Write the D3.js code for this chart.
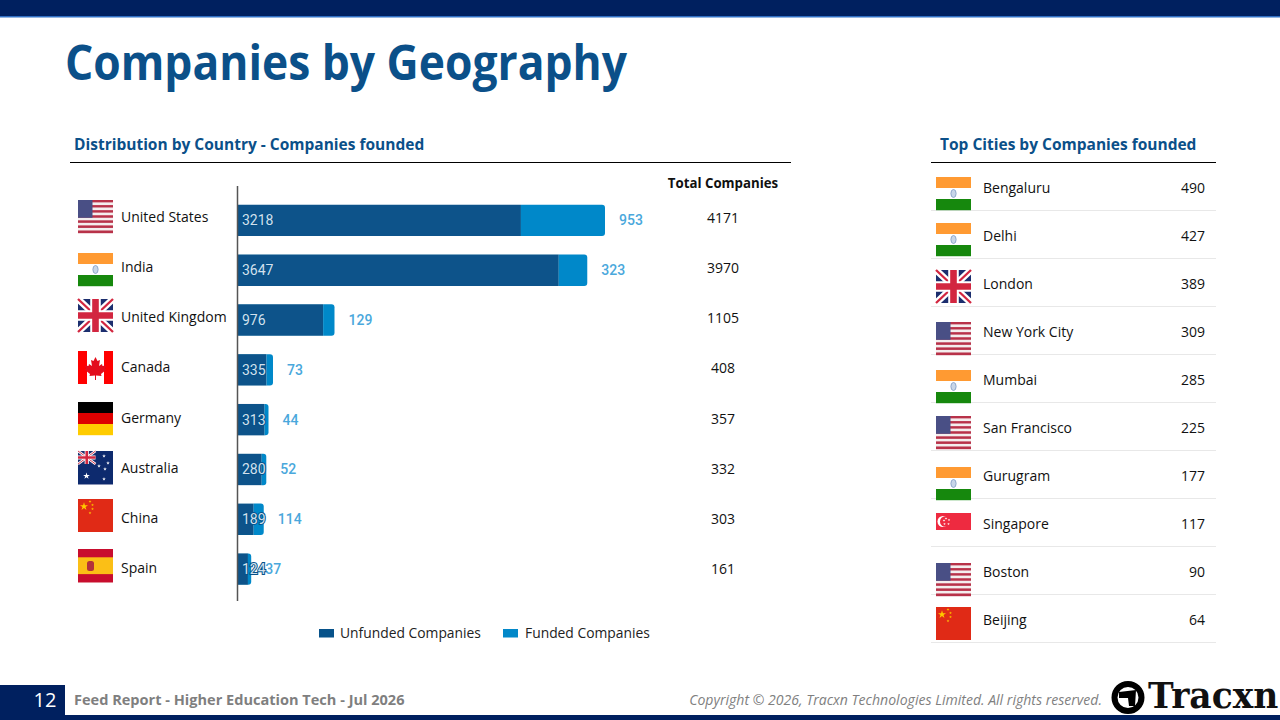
<!DOCTYPE html>
<html>
<head>
<meta charset="utf-8">
<title>Companies by Geography</title>
<script src="https://cdn.jsdelivr.net/npm/d3@7"></script>
<style>
html, body { margin: 0; padding: 0; background: #fff; overflow: hidden; }
text { font-family: "Open Sans", sans-serif; }
</style>
</head>
<body>
<script>
// Country chart data
var countries = ["United States", "India", "United Kingdom", "Canada", "Germany", "Australia", "China", "Spain"];
var countryFlags = ["us", "in", "uk", "ca", "de", "au", "cn", "es"];
var unfunded = [3218, 3647, 976, 335, 313, 280, 189, 124];
var funded = [953, 323, 129, 73, 44, 52, 114, 37];
var totals = [4171, 3970, 1105, 408, 357, 332, 303, 161];
var seriesNames = ["Unfunded Companies", "Funded Companies"];

// City table data
var cities = ["Bengaluru", "Delhi", "London", "New York City", "Mumbai", "San Francisco", "Gurugram", "Singapore", "Boston", "Beijing"];
var cityFlags = ["in", "in", "uk", "us", "in", "us", "in", "sg", "us", "cn"];
var cityCounts = [490, 427, 389, 309, 285, 225, 177, 117, 90, 64];

// Flags are pasted images in the slide and do not sit exactly on the rows
var countryFlagTop = [200, 253, 299, 351, 402, 451, 499, 549];
var cityFlagTop = [177, 223, 270, 322, 370, 416, 467, 513, 563, 607];

var navy = "#00205f", dark = "#07528a", light = "#0288c9", heading = "#0b5089";

var svg = d3.select("body").append("svg")
    .attr("width", 1280)
    .attr("height", 720)
    .style("display", "block");

var defs = svg.append("defs");
defs.append("filter").attr("id", "soft")
    .append("feGaussianBlur").attr("stdDeviation", 0.4);

// ---------------- page frame ----------------
svg.append("rect").attr("width", 1280).attr("height", 16).attr("fill", navy);
svg.append("rect").attr("y", 16).attr("width", 1280).attr("height", 1.5).attr("fill", "#2f6fc4");

svg.append("text").attr("x", 65).attr("y", 80)
    .attr("font-size", 48).attr("font-weight", 700).attr("fill", heading)
    .attr("textLength", 562).attr("lengthAdjust", "spacingAndGlyphs")
    .text("Companies by Geography");

svg.append("rect").attr("y", 685).attr("width", 65).attr("height", 35).attr("fill", navy);
svg.append("rect").attr("y", 715).attr("width", 1280).attr("height", 5).attr("fill", navy);
svg.append("text").attr("x", 45).attr("y", 707).attr("text-anchor", "middle")
    .attr("font-size", 20).attr("fill", "#fff").text("12");
svg.append("text").attr("x", 74).attr("y", 705)
    .attr("font-size", 14.55).attr("font-weight", 700).attr("fill", "#7f7f7f")
    .text("Feed Report - Higher Education Tech - Jul 2026");
svg.append("text").attr("x", 1102).attr("y", 705).attr("text-anchor", "end")
    .attr("font-size", 14.07).attr("font-style", "italic").attr("fill", "#7f7f7f")
    .text("Copyright © 2026, Tracxn Technologies Limited. All rights reserved.");

// logo
var logo = svg.append("g");
logo.append("circle").attr("cx", 1128).attr("cy", 697.5).attr("r", 13.5)
    .attr("fill", "none").attr("stroke", "#000").attr("stroke-width", 6);
logo.append("path").attr("d", "M1119,692 L1136,690 L1135,706 L1129,706 L1128,698 L1119,698 Z").attr("fill", "#000");
logo.append("text").attr("x", 1148).attr("y", 708)
    .attr("font-size", 34.5).attr("font-weight", 700)
    .style("font-family", "'DejaVu Serif', serif").attr("fill", "#111")
    .text("Tracxn");

// ---------------- section headings ----------------
svg.append("text").attr("x", 74).attr("y", 149.5)
    .attr("font-size", 15.5).attr("font-weight", 700).attr("fill", heading)
    .text("Distribution by Country - Companies founded");
svg.append("line").attr("x1", 70).attr("x2", 791).attr("y1", 162.5).attr("y2", 162.5).attr("stroke", "#000");
svg.append("text").attr("x", 940).attr("y", 149.5)
    .attr("font-size", 15.5).attr("font-weight", 700).attr("fill", heading)
    .text("Top Cities by Companies founded");
svg.append("line").attr("x1", 931).attr("x2", 1216).attr("y1", 162.5).attr("y2", 162.5).attr("stroke", "#000");
svg.append("text").attr("x", 723).attr("y", 188).attr("text-anchor", "middle")
    .attr("font-size", 13.25).attr("font-weight", 700).attr("fill", "#111")
    .text("Total Companies");

// ---------------- flags ----------------
function star(g, cx, cy, size, fill) {
    g.append("path")
        .attr("d", d3.symbol().type(d3.symbolStar).size(size)())
        .attr("transform", "translate(" + cx + "," + cy + ")")
        .attr("fill", fill);
}

function bands(g, colors, w, h) {
    colors.forEach(function(c, i) {
        g.append("rect").attr("y", i * h / colors.length)
            .attr("width", w).attr("height", h / colors.length + 0.2).attr("fill", c);
    });
}

function unionJack(g, w, h) {
    g.append("rect").attr("width", w).attr("height", h).attr("fill", "#1c2f6e");
    var diag = "M0,0L" + w + "," + h + "M" + w + ",0L0," + h;
    g.append("path").attr("d", diag).attr("stroke", "#fff").attr("stroke-width", h * 0.2);
    g.append("path").attr("d", diag).attr("stroke", "#d2263f").attr("stroke-width", h * 0.07);
    var cross = "M" + w / 2 + ",0V" + h + "M0," + h / 2 + "H" + w;
    g.append("path").attr("d", cross).attr("stroke", "#fff").attr("stroke-width", h * 0.32);
    g.append("path").attr("d", cross).attr("stroke", "#d2263f").attr("stroke-width", h * 0.2);
}

var drawers = {
    us: function(g) {
        var stripes = d3.range(13).map(function(i) { return i % 2 ? "#f4eeee" : "#b8324a"; });
        bands(g, stripes, 35, 33);
        g.append("rect").attr("width", 14.5).attr("height", 17.8).attr("fill", "#4a4f85");
    },
    in: function(g) {
        bands(g, ["#ff9a33", "#fff", "#16880c"], 35, 33);
        g.append("ellipse").attr("cx", 17.5).attr("cy", 16.5).attr("rx", 2.6).attr("ry", 4)
            .attr("fill", "#c8d6e8").attr("stroke", "#8fa8cc");
    },
    uk: function(g) { unionJack(g, 35, 33); },
    ca: function(g) {
        g.append("rect").attr("width", 35).attr("height", 33).attr("fill", "#fff");
        g.append("rect").attr("width", 9).attr("height", 33).attr("fill", "#f00");
        g.append("rect").attr("x", 26).attr("width", 9).attr("height", 33).attr("fill", "#f00");
        g.append("path").attr("fill", "#e3101a")
            .attr("d", "M17.5,6 L19.5,10 L22,9 L21,15 L24,13 L24.5,15 L28,14.5 L27,18 L28,19 L23,23 L23.5,25 L18,24.5 L18,29 L17,29 L17,24.5 L11.5,25 L12,23 L7,19 L8,18 L7,14.5 L10.5,15 L11,13 L14,15 L13,9 L15.5,10 Z");
    },
    de: function(g) { bands(g, ["#000", "#dd0000", "#ffcc00"], 35, 33); },
    au: function(g) {
        g.append("rect").attr("width", 35).attr("height", 33.5).attr("fill", "#0f2a6e");
        unionJack(g.append("g"), 17.5, 13);
        star(g, 8.5, 25, 14, "#fff");
        [[26, 5], [21, 15], [30, 12], [26, 28], [27, 18]].forEach(function(p) { star(g, p[0], p[1], 4, "#fff"); });
    },
    cn: function(g) {
        g.append("rect").attr("width", 35).attr("height", 33).attr("fill", "#e02b14");
        star(g, 6, 7.5, 20, "#ffc800");
        [[12, 2.5], [14.5, 6], [14.5, 10], [12, 14]].forEach(function(p) { star(g, p[0], p[1], 2.5, "#ffc800"); });
    },
    es: function(g) {
        g.append("rect").attr("width", 35).attr("height", 33.5).attr("fill", "#c8102e");
        g.append("rect").attr("y", 8.3).attr("width", 35).attr("height", 16.8).attr("fill", "#fbbf14");
        g.append("rect").attr("x", 9).attr("y", 12).attr("width", 7).attr("height", 10).attr("rx", 2.5).attr("fill", "#b3303a");
    },
    sg: function(g) {
        g.append("rect").attr("width", 35).attr("height", 17).attr("fill", "#ee2b3f");
        g.append("circle").attr("cx", 7).attr("cy", 8.5).attr("r", 5.5).attr("fill", "#fff");
        g.append("circle").attr("cx", 9.3).attr("cy", 8.5).attr("r", 5.3).attr("fill", "#ee2b3f");
        [[10, 5.5], [13, 7], [12.5, 11], [8.5, 11], [8, 7.5]].forEach(function(p) { star(g, p[0], p[1], 2, "#fff"); });
    }
};

function addFlag(x, y, code) {
    var g = svg.append("g")
        .attr("transform", "translate(" + x + "," + y + ")")
        .attr("filter", "url(#soft)");
    drawers[code](g);
}

// ---------------- country chart ----------------
var x = d3.scaleLinear().domain([0, d3.max(totals)]).range([237, 605]);
var y = d3.scaleBand().domain(countries).range([195.5, 594]).paddingInner(0.37).paddingOuter(0.185);
var rowY = d3.scalePoint().domain(countries).range([222, 573]);
var color = d3.scaleOrdinal().domain(seriesNames).range([dark, light]);

var rows = countries.map(function(c, i) {
    return { country: c, "Unfunded Companies": unfunded[i], "Funded Companies": funded[i], total: totals[i] };
});
var stacked = d3.stack().keys(seriesNames)(rows);

// funded segment gets the rounded right end
function segment(d, key) {
    var x0 = x(d[0]), x1 = x(d[1]), t = y(d.data.country), b = t + y.bandwidth();
    if (key === seriesNames[0]) return "M" + x0 + "," + t + "H" + x1 + "V" + b + "H" + x0 + "Z";
    var r = Math.min(3, x1 - x0);
    return "M" + x0 + "," + t + "H" + (x1 - r) + "Q" + x1 + "," + t + " " + x1 + "," + (t + r) +
        "V" + (b - r) + "Q" + x1 + "," + b + " " + (x1 - r) + "," + b + "H" + x0 + "Z";
}

var barLayer = svg.append("g").attr("filter", "url(#soft)");
barLayer.selectAll("g")
    .data(stacked)
    .enter().append("g")
    .attr("fill", function(s) { return color(s.key); })
    .selectAll("path")
    .data(function(s) { return s.map(function(d) { d.key = s.key; return d; }); })
    .enter().append("path")
    .attr("d", function(d) { return segment(d, d.key); });

// y axis, no ticks
var yAxis = d3.axisLeft(y).tickSize(0).tickFormat("");
var axisG = svg.append("g").attr("transform", "translate(237.5,0)").call(yAxis);
axisG.select(".domain").attr("d", "M0,186V601").attr("stroke", "#555").attr("stroke-width", 1.5);

// funded value labels, drawn first so the unfunded halo sits over them on Spain
svg.append("g").selectAll("text")
    .data(rows)
    .enter().append("text")
    .attr("x", function(d) { return x(d.total) + 14; })
    .attr("y", function(d) { return y(d.country) + y.bandwidth() / 2; })
    .attr("dy", "0.35em")
    .attr("font-size", 14)
    .attr("font-weight", 500)
    .style("font-family", "Roboto, sans-serif")
    .attr("fill", "#4aa8dc")
    .text(function(d) { return d["Funded Companies"]; });

// unfunded value labels, with the dark halo that shows on the small bars
svg.append("g").selectAll("text")
    .data(rows)
    .enter().append("text")
    .attr("x", 242)
    .attr("y", function(d) { return y(d.country) + y.bandwidth() / 2; })
    .attr("dy", "0.35em")
    .attr("font-size", 14)
    .style("font-family", "Roboto, sans-serif")
    .attr("fill", "#d3e0ec")
    .attr("stroke", dark).attr("stroke-width", 2).attr("paint-order", "stroke")
    .text(function(d) { return d["Unfunded Companies"]; });

// country names, flags, totals
svg.append("g").selectAll("text")
    .data(rows)
    .enter().append("text")
    .attr("x", 121)
    .attr("y", function(d) { return rowY(d.country); })
    .attr("font-size", 14).attr("fill", "#111")
    .text(function(d) { return d.country; });

svg.append("g").selectAll("text")
    .data(rows)
    .enter().append("text")
    .attr("x", 723)
    .attr("y", function(d) { return rowY(d.country) + 1; })
    .attr("text-anchor", "middle")
    .attr("font-size", 14).attr("fill", "#111")
    .text(function(d) { return d.total; });

countryFlags.forEach(function(code, i) { addFlag(78, countryFlagTop[i], code); });

// legend
var legendX = [319, 503], legendTextX = [340, 525];
seriesNames.forEach(function(name, i) {
    svg.append("rect").attr("x", legendX[i]).attr("y", 629).attr("width", 15).attr("height", 8.5).attr("fill", color(name));
    svg.append("text").attr("x", legendTextX[i]).attr("y", 638)
        .attr("font-size", 13.85).attr("fill", "#222").text(name);
});

// ---------------- city table ----------------
var cityY = d3.scalePoint().domain(cities).range([192.7, 624.5]);

svg.append("g").selectAll("line")
    .data(cities)
    .enter().append("line")
    .attr("x1", 931).attr("x2", 1216)
    .attr("y1", function(c) { return Math.floor(cityY(c) + 17.8) + 0.5; })
    .attr("y2", function(c) { return Math.floor(cityY(c) + 17.8) + 0.5; })
    .attr("stroke", "#e8e8e8");

svg.append("g").selectAll("text")
    .data(cities)
    .enter().append("text")
    .attr("x", 983)
    .attr("y", function(c) { return cityY(c); })
    .attr("font-size", 14).attr("fill", "#111")
    .text(function(c) { return c; });

svg.append("g").selectAll("text")
    .data(cityCounts)
    .enter().append("text")
    .attr("x", 1205)
    .attr("y", function(d, i) { return cityY(cities[i]); })
    .attr("text-anchor", "end")
    .attr("font-size", 14).attr("fill", "#111")
    .text(function(d) { return d; });

cityFlags.forEach(function(code, i) { addFlag(936, cityFlagTop[i], code); });
</script>
</body>
</html>
